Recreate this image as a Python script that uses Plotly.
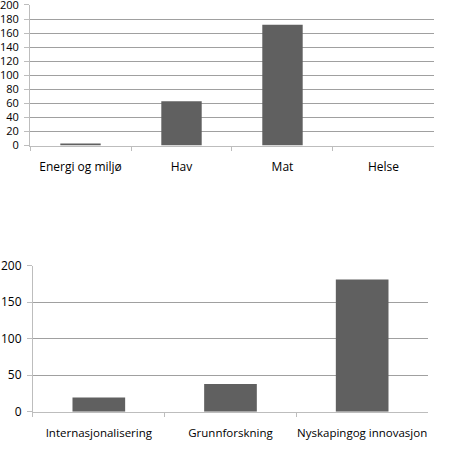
import plotly.graph_objects as go

# top chart
omrader = ['Energi og miljø', 'Hav', 'Mat', 'Helse']
omrader_verdier = [3, 63, 172, 0]

# bottom chart
formal = ['Internasjonalisering', 'Grunnforskning', 'Nyskapingog innovasjon']
formal_verdier = [19.5, 38, 181]

BAR_COLOR = '#606060'
GRID_COLOR = '#a0a0a0'
AXIS_COLOR = '#bdbdbd'
FONT = dict(family='Open Sans', size=12, color='#000000')
FONT_YTOP = dict(family='Open Sans', size=11, color='#000000')
FONT_BOTTOM = dict(family='Open Sans', size=11.5, color='#000000')

fig = go.Figure()

fig.add_trace(go.Bar(
    x=omrader, y=omrader_verdier,
    marker=dict(color=BAR_COLOR, line=dict(width=0)),
    width=0.4, xaxis='x', yaxis='y', showlegend=False
))
fig.add_trace(go.Bar(
    x=formal, y=formal_verdier,
    marker=dict(color=BAR_COLOR, line=dict(width=0)),
    width=0.4, xaxis='x2', yaxis='y2', showlegend=False
))

xcommon = dict(
    showgrid=False, showline=True, linecolor=AXIS_COLOR, linewidth=1,
    ticks='outside', tickson='boundaries', ticklen=4, tickcolor=AXIS_COLOR,
    tickangle=0, ticklabelstandoff=10, fixedrange=True, automargin=False
)
ycommon = dict(
    showgrid=True, gridcolor=GRID_COLOR, gridwidth=1,
    showline=True, linecolor=AXIS_COLOR, linewidth=1,
    ticks='outside', ticklen=5, tickcolor=AXIS_COLOR, ticklabelstandoff=3,
    ticklabeloverflow='allow', zeroline=False, fixedrange=True, automargin=False
)

fig.update_layout(
    width=450, height=476,
    margin=dict(l=0, r=0, t=0, b=0),
    paper_bgcolor='white', plot_bgcolor='white',
    font=FONT,
    xaxis=dict(domain=[0.0667, 0.9644], anchor='y', tickfont=FONT, **xcommon),
    yaxis=dict(domain=[0.6943, 0.9895], anchor='x', range=[0, 200], dtick=20,
               tickfont=FONT_YTOP, **ycommon),
    xaxis2=dict(domain=[0.0733, 0.9511], anchor='y2', tickfont=FONT_BOTTOM, **xcommon),
    yaxis2=dict(domain=[0.135, 0.4418], anchor='x2', range=[0, 200], dtick=50,
                tickfont=FONT, **ycommon),
)

# drop the default body margin so the figure sits at the window's top-left
fig.write_html("out.html", config={'displayModeBar': False},
               post_script="document.body.style.margin='0';")
